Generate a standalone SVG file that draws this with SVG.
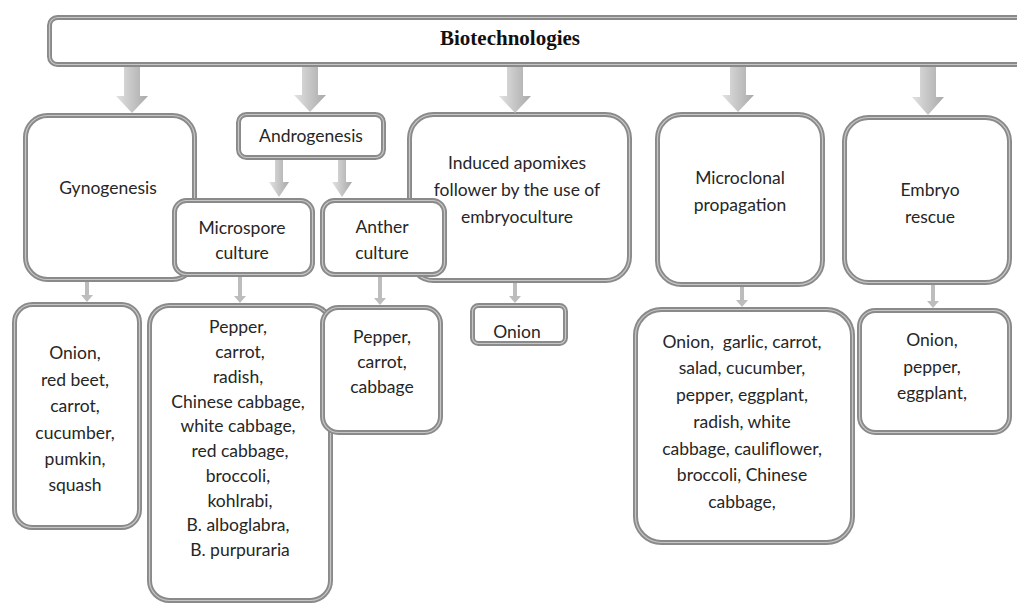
<svg xmlns="http://www.w3.org/2000/svg" width="1017" height="606" viewBox="0 0 1017 606">
<defs>
<linearGradient id="ag" x1="0" y1="0" x2="1" y2="0">
<stop offset="0" stop-color="#e2e2e2"/>
<stop offset="1" stop-color="#a9a9a9"/>
</linearGradient>
<style>
.box{fill:#fff;stroke:#8a8a8a;stroke-width:5}
.hl{fill:none;stroke:#c6c6c6;stroke-width:1.2}
.t{font-family:Lato,"Liberation Sans",sans-serif;font-size:17.5px;fill:#262626;text-anchor:middle}
.title{font-family:"Liberation Serif",serif;font-weight:bold;font-size:21px;fill:#111;text-anchor:middle}
.arr{fill:url(#ag)}
.sarr{fill:#bdbdbd}
</style>
</defs>
<rect width="1017" height="606" fill="#fff"/>

<g id="biotechnologies">
<rect class="box" x="49.5" y="17.5" width="1000" height="47" rx="8"/>
<rect class="hl" x="49.5" y="17.5" width="1000" height="47" rx="8"/>
<text class="title" x="510" y="45">Biotechnologies</text>
</g>

<g id="gynogenesis">
<rect class="box" x="25.5" y="115.5" width="169" height="164" rx="22"/>
<rect class="hl" x="25.5" y="115.5" width="169" height="164" rx="22"/>
<text class="t" x="108" y="194">Gynogenesis</text>
</g>

<g id="androgenesis">
<rect class="box" x="238.5" y="114.5" width="145" height="43" rx="8"/>
<rect class="hl" x="238.5" y="114.5" width="145" height="43" rx="8"/>
<text class="t" x="311" y="142">Androgenesis</text>
</g>

<g id="microspore-culture">
<rect class="box" x="174.5" y="200.5" width="138" height="74" rx="12"/>
<rect class="hl" x="174.5" y="200.5" width="138" height="74" rx="12"/>
<text class="t" x="242" y="234">Microspore</text>
<text class="t" x="242" y="259">culture</text>
</g>

<g id="induced-apomixes">
<rect class="box" x="409.5" y="114.5" width="220" height="166" rx="24"/>
<rect class="hl" x="409.5" y="114.5" width="220" height="166" rx="24"/>
<text class="t" x="517" y="169">Induced apomixes</text>
<text class="t" x="517" y="196">follower by the use of</text>
<text class="t" x="517" y="223">embryoculture</text>
</g>

<g id="anther-culture">
<rect class="box" x="322.5" y="200.5" width="122" height="74" rx="12"/>
<rect class="hl" x="322.5" y="200.5" width="122" height="74" rx="12"/>
<text class="t" x="382" y="233">Anther</text>
<text class="t" x="382" y="259">culture</text>
</g>

<g id="microclonal-propagation">
<rect class="box" x="657.5" y="114.5" width="165" height="170" rx="24"/>
<rect class="hl" x="657.5" y="114.5" width="165" height="170" rx="24"/>
<text class="t" x="740" y="184">Microclonal</text>
<text class="t" x="740" y="211">propagation</text>
</g>

<g id="embryo-rescue">
<rect class="box" x="844.5" y="117.5" width="165" height="165" rx="24"/>
<rect class="hl" x="844.5" y="117.5" width="165" height="165" rx="24"/>
<text class="t" x="930" y="196">Embryo</text>
<text class="t" x="930" y="223">rescue</text>
</g>

<g id="gynogenesis-crops">
<rect class="box" x="14.5" y="304.5" width="125" height="223" rx="18"/>
<rect class="hl" x="14.5" y="304.5" width="125" height="223" rx="18"/>
<text class="t" x="75" y="359">Onion,</text>
<text class="t" x="75" y="386">red beet,</text>
<text class="t" x="75" y="412">carrot,</text>
<text class="t" x="75" y="439">cucumber,</text>
<text class="t" x="75" y="465">pumkin,</text>
<text class="t" x="75" y="491">squash</text>
</g>

<g id="microspore-crops">
<rect class="box" x="149.5" y="305.5" width="181" height="295" rx="20"/>
<rect class="hl" x="149.5" y="305.5" width="181" height="295" rx="20"/>
<text class="t" x="238" y="333">Pepper,</text>
<text class="t" x="240" y="358">carrot,</text>
<text class="t" x="238" y="383">radish,</text>
<text class="t" x="238" y="408">Chinese cabbage,</text>
<text class="t" x="238" y="432">white cabbage,</text>
<text class="t" x="240" y="457">red cabbage,</text>
<text class="t" x="238" y="482">broccoli,</text>
<text class="t" x="240" y="507">kohlrabi,</text>
<text class="t" x="238" y="531">B. alboglabra,</text>
<text class="t" x="240" y="556">B. purpuraria</text>
</g>

<g id="anther-crops">
<rect class="box" x="322.5" y="307.5" width="118" height="125" rx="16"/>
<rect class="hl" x="322.5" y="307.5" width="118" height="125" rx="16"/>
<text class="t" x="382" y="343">Pepper,</text>
<text class="t" x="382" y="368">carrot,</text>
<text class="t" x="382" y="393">cabbage</text>
</g>

<g id="apomixes-crops">
<rect class="box" x="472.5" y="305.5" width="93" height="38" rx="6"/>
<rect class="hl" x="472.5" y="305.5" width="93" height="38" rx="6"/>
<text class="t" x="517" y="338">Onion</text>
</g>

<g id="microclonal-crops">
<rect class="box" x="635.5" y="309.5" width="217" height="233" rx="26"/>
<rect class="hl" x="635.5" y="309.5" width="217" height="233" rx="26"/>
<text class="t" x="742" y="348" xml:space="preserve">Onion,  garlic, carrot,</text>
<text class="t" x="742" y="374">salad, cucumber,</text>
<text class="t" x="742" y="401">pepper, eggplant,</text>
<text class="t" x="742" y="428">radish, white</text>
<text class="t" x="742" y="455">cabbage, cauliflower,</text>
<text class="t" x="742" y="481">broccoli, Chinese</text>
<text class="t" x="742" y="508">cabbage,</text>
</g>

<g id="embryo-crops">
<rect class="box" x="859.5" y="310.5" width="150" height="122" rx="16"/>
<rect class="hl" x="859.5" y="310.5" width="150" height="122" rx="16"/>
<text class="t" x="932" y="346">Onion,</text>
<text class="t" x="932" y="373">pepper,</text>
<text class="t" x="932" y="399">eggplant,</text>
</g>

<g id="connectors">
<path class="arr" d="M124 67 H140 V96 H148 L132 113 L116 96 H124 Z"/>
<path class="arr" d="M302 67 H318 V95 H326 L310 112 L294 95 H302 Z"/>
<path class="arr" d="M507 67 H523 V96 H531 L515 113 L499 96 H507 Z"/>
<path class="arr" d="M730 67 H746 V95 H754 L738 112 L722 95 H730 Z"/>
<path class="arr" d="M920 67 H936 V97 H944 L928 115 L912 97 H920 Z"/>
<path class="arr" d="M275 160 H283 V182 H289 L279 197 L269 182 H275 Z"/>
<path class="arr" d="M338 160 H346 V182 H352 L342 197 L332 182 H338 Z"/>
<path class="sarr" d="M85 282 H89 V295 H93 L87 302 L81 295 H85 Z"/>
<path class="sarr" d="M238 277 H242 V296 H246 L240 303 L234 296 H238 Z"/>
<path class="sarr" d="M378 277 H382 V298 H386 L380 305 L374 298 H378 Z"/>
<path class="sarr" d="M513 283 H517 V296 H521 L515 303 L509 296 H513 Z"/>
<path class="sarr" d="M740 287 H744 V300 H748 L742 307 L736 300 H740 Z"/>
<path class="sarr" d="M931 285 H935 V301 H939 L933 308 L927 301 H931 Z"/>
</g>
</svg>
